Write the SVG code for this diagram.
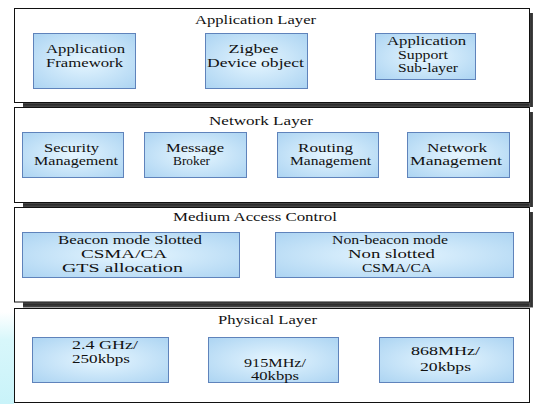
<svg xmlns="http://www.w3.org/2000/svg" width="533" height="404" viewBox="0 0 533 404">
  <defs>
    <radialGradient id="boxFill" cx="50%" cy="50%" r="70%">
      <stop offset="0" stop-color="#e6f6ff"/>
      <stop offset="1" stop-color="#acd4f2"/>
    </radialGradient>
    <linearGradient id="shadowH" x1="0" y1="0" x2="0" y2="1">
      <stop offset="0" stop-color="#6a6a6a"/>
      <stop offset="0.4" stop-color="#2a2a2a"/>
      <stop offset="1" stop-color="#4a4a4a"/>
    </linearGradient>
    <linearGradient id="shadowV" x1="0" y1="0" x2="1" y2="0">
      <stop offset="0" stop-color="#6a6a6a"/>
      <stop offset="0.4" stop-color="#2a2a2a"/>
      <stop offset="1" stop-color="#4a4a4a"/>
    </linearGradient>
    <linearGradient id="glow" x1="0" y1="0" x2="0" y2="1">
      <stop offset="0" stop-color="#ffffff"/>
      <stop offset="0.3" stop-color="#d8f7fb"/>
      <stop offset="1" stop-color="#c9f3f9"/>
    </linearGradient>
  </defs>
  <style>
    .layer { fill: #ffffff; stroke: #111111; stroke-width: 1; }
    .box { fill: url(#boxFill); stroke: #5f83bb; stroke-width: 1; }
    .sh { fill: url(#shadowH); }
    .sv { fill: url(#shadowV); }
    .t { fill: #111111; text-anchor: middle; font-size: 12px; }
    .title { fill: #111111; text-anchor: middle; font-size: 13px; }
  </style>

  <rect width="533" height="404" fill="#ffffff"/>
  <!-- soft cyan glow at the lower left -->
  <rect x="0" y="312" width="14" height="92" fill="url(#glow)"/>

  <g font-family="'Liberation Serif', 'Times New Roman', serif">
  <!-- Application Layer -->
  <g id="application-layer">
    <rect class="sh" x="23" y="102.5" width="510" height="4.5"/>
    <rect class="sv" x="529.5" y="13" width="3.5" height="94"/>
    <rect class="layer" x="14.5" y="8.5" width="515" height="94"/>
    <text class="title" x="255.5" y="24" textLength="121" lengthAdjust="spacingAndGlyphs">Application Layer</text>
  </g>
  <g id="application-framework">
    <rect class="box" x="33.5" y="33.5" width="102" height="55"/>
    <text class="t" x="85.5" y="53" textLength="79" lengthAdjust="spacingAndGlyphs">Application</text>
    <text class="t" x="84.5" y="66.5" textLength="77" lengthAdjust="spacingAndGlyphs">Framework</text>
  </g>
  <g id="zigbee-device-object">
    <rect class="box" x="205.5" y="33.5" width="102" height="55"/>
    <text class="t" x="253.5" y="53" textLength="50" lengthAdjust="spacingAndGlyphs">Zigbee</text>
    <text class="t" x="255.5" y="66.5" textLength="97" lengthAdjust="spacingAndGlyphs">Device object</text>
  </g>
  <g id="application-support-sublayer">
    <rect class="box" x="375.5" y="33.5" width="100" height="46"/>
    <text class="t" x="426.5" y="45" textLength="79" lengthAdjust="spacingAndGlyphs">Application</text>
    <text class="t" x="423" y="58.5" textLength="50" lengthAdjust="spacingAndGlyphs">Support</text>
    <text class="t" x="428" y="72" textLength="60" lengthAdjust="spacingAndGlyphs">Sub-layer</text>
  </g>

  <!-- Network Layer -->
  <g id="network-layer">
    <rect class="sh" x="23" y="202.5" width="510" height="4.5"/>
    <rect class="sv" x="529.5" y="112" width="3.5" height="95"/>
    <rect class="layer" x="14.5" y="107.5" width="515" height="95"/>
    <text class="title" x="261" y="125" textLength="104" lengthAdjust="spacingAndGlyphs">Network Layer</text>
  </g>
  <g id="security-management">
    <rect class="box" x="22.5" y="132.5" width="101" height="45"/>
    <text class="t" x="71.5" y="151.5" textLength="55" lengthAdjust="spacingAndGlyphs">Security</text>
    <text class="t" x="76" y="165" textLength="84" lengthAdjust="spacingAndGlyphs">Management</text>
  </g>
  <g id="message-broker">
    <rect class="box" x="144.5" y="132.5" width="102" height="45"/>
    <text class="t" x="195" y="151.5" textLength="58" lengthAdjust="spacingAndGlyphs">Message</text>
    <text class="t" x="191.5" y="165" textLength="37" lengthAdjust="spacingAndGlyphs">Broker</text>
  </g>
  <g id="routing-management">
    <rect class="box" x="277.5" y="132.5" width="101" height="45"/>
    <text class="t" x="325.5" y="151.5" textLength="55" lengthAdjust="spacingAndGlyphs">Routing</text>
    <text class="t" x="330.5" y="165" textLength="81" lengthAdjust="spacingAndGlyphs">Management</text>
  </g>
  <g id="network-management">
    <rect class="box" x="407.5" y="132.5" width="102" height="45"/>
    <text class="t" x="457" y="151.5" textLength="60" lengthAdjust="spacingAndGlyphs">Network</text>
    <text class="t" x="456" y="165" textLength="92" lengthAdjust="spacingAndGlyphs">Management</text>
  </g>

  <!-- Medium Access Control -->
  <g id="mac-layer">
    <rect class="sh" x="23" y="302" width="510" height="5.5"/>
    <rect class="sv" x="529.5" y="212" width="3.5" height="95"/>
    <rect class="layer" x="14.5" y="207.5" width="515" height="94.5"/>
    <text class="title" x="255" y="220.5" textLength="164" lengthAdjust="spacingAndGlyphs">Medium Access Control</text>
  </g>
  <g id="beacon-mode">
    <rect class="box" x="22.5" y="232.5" width="217" height="45"/>
    <text class="t" x="130" y="243.5" textLength="144" lengthAdjust="spacingAndGlyphs">Beacon mode Slotted</text>
    <text class="t" x="124" y="257.5" textLength="86" lengthAdjust="spacingAndGlyphs">CSMA/CA</text>
    <text class="t" x="122.5" y="271.5" textLength="121" lengthAdjust="spacingAndGlyphs">GTS allocation</text>
  </g>
  <g id="non-beacon-mode">
    <rect class="box" x="275.5" y="232.5" width="238" height="45"/>
    <text class="t" x="390" y="243.5" textLength="116" lengthAdjust="spacingAndGlyphs">Non-beacon mode</text>
    <text class="t" x="391.5" y="257.5" textLength="87" lengthAdjust="spacingAndGlyphs">Non slotted</text>
    <text class="t" x="397" y="271.5" textLength="70" lengthAdjust="spacingAndGlyphs">CSMA/CA</text>
  </g>

  <!-- Physical Layer -->
  <g id="physical-layer">
    <rect class="layer" x="14.5" y="308.5" width="515" height="94"/>
    <text class="title" x="267.5" y="323.5" textLength="99" lengthAdjust="spacingAndGlyphs">Physical Layer</text>
  </g>
  <g id="phy-2400">
    <rect class="box" x="32.5" y="337.5" width="136" height="45"/>
    <text class="t" x="105" y="349" textLength="66" lengthAdjust="spacingAndGlyphs">2.4 GHz/</text>
    <text class="t" x="101" y="362.5" textLength="58" lengthAdjust="spacingAndGlyphs">250kbps</text>
  </g>
  <g id="phy-915">
    <rect class="box" x="208.5" y="337.5" width="130" height="45"/>
    <text class="t" x="275" y="366.5" textLength="62" lengthAdjust="spacingAndGlyphs">915MHz/</text>
    <text class="t" x="275" y="380" textLength="48" lengthAdjust="spacingAndGlyphs">40kbps</text>
  </g>
  <g id="phy-868">
    <rect class="box" x="379.5" y="337.5" width="134" height="45"/>
    <text class="t" x="445.5" y="354.5" textLength="69" lengthAdjust="spacingAndGlyphs">868MHz/</text>
    <text class="t" x="445.5" y="371" textLength="51" lengthAdjust="spacingAndGlyphs">20kbps</text>
  </g>
  </g>
</svg>
